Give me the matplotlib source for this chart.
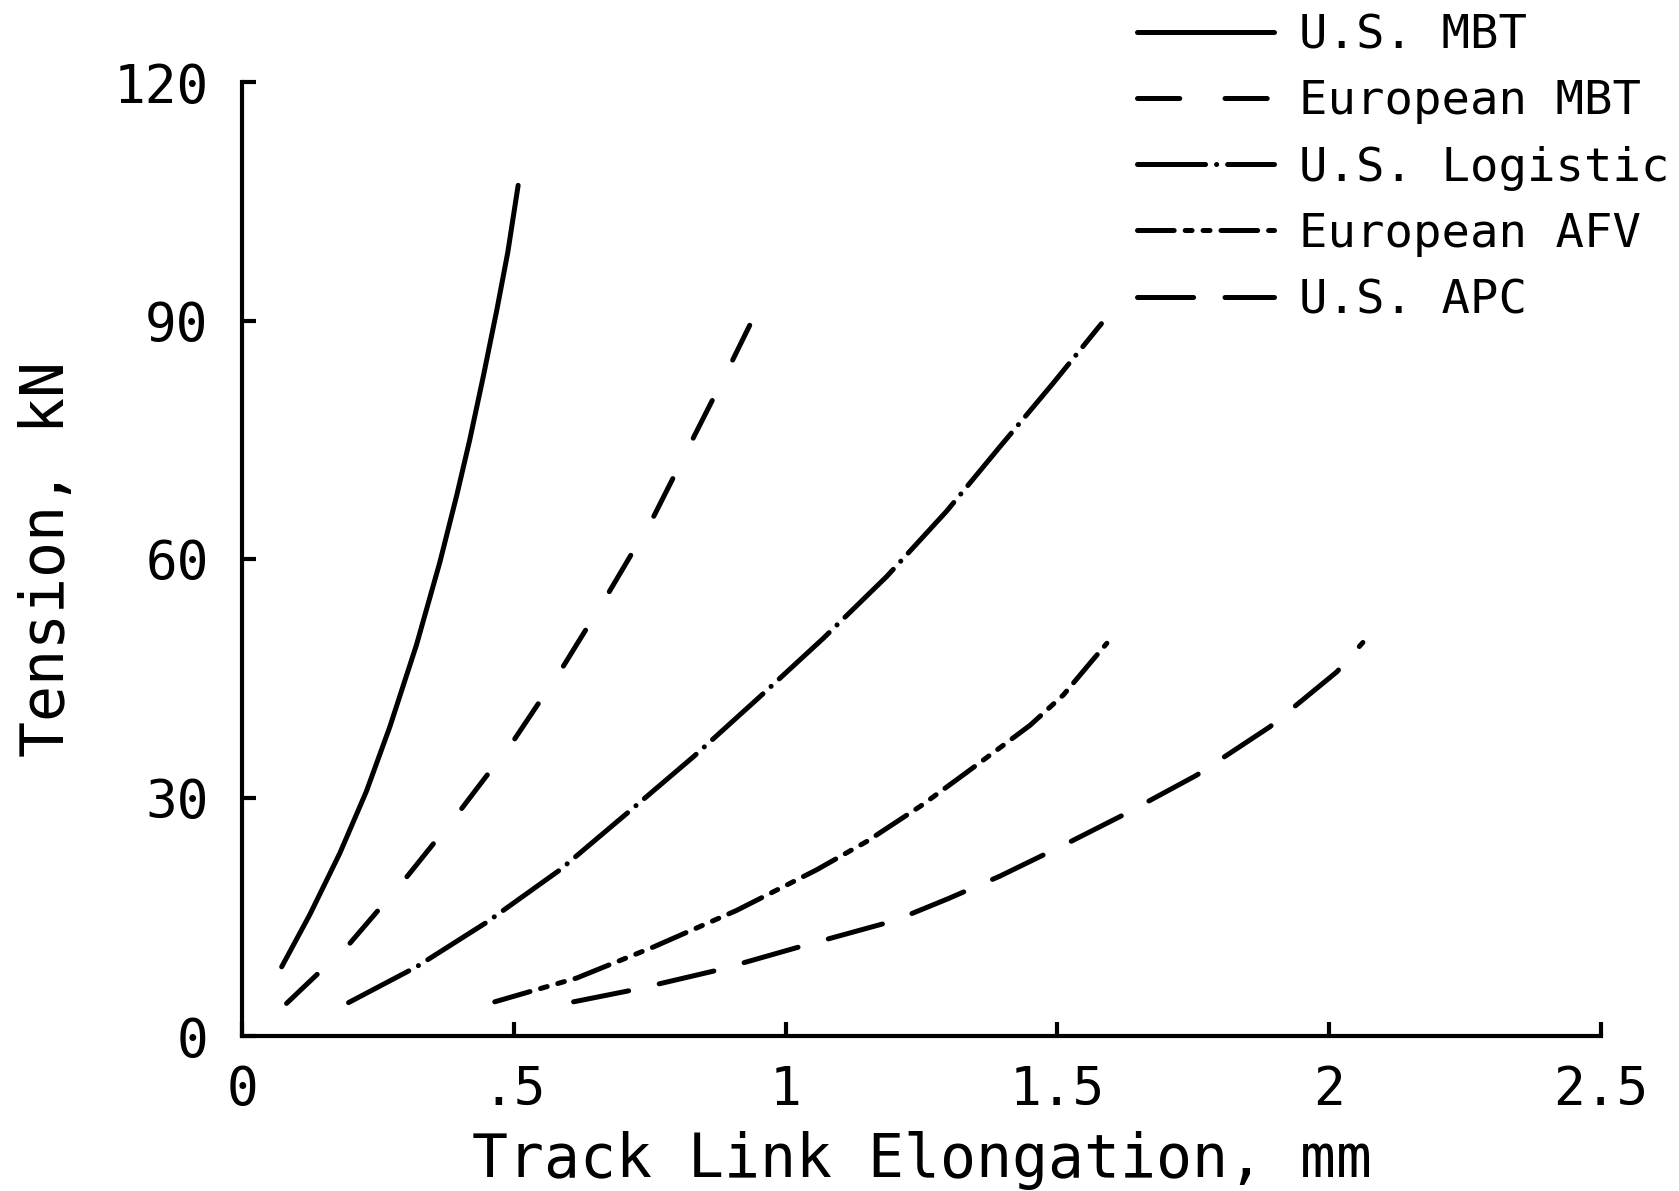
import matplotlib
matplotlib.use("Agg")
import matplotlib.pyplot as plt
import numpy as np

# values (elongation mm, tension kN)
us_mbt_x = [0.073, 0.125, 0.180, 0.229, 0.272, 0.321, 0.364, 0.395, 0.419, 0.444, 0.469, 0.489, 0.508]
us_mbt_y = [8.7, 15.3, 23.0, 30.8, 38.9, 49.2, 59.6, 68.0, 75.0, 83.0, 91.4, 98.6, 107.0]

eu_mbt_x = [0.082, 0.199, 0.303, 0.404, 0.502, 0.591, 0.674, 0.757, 0.830, 0.901, 0.934]
eu_mbt_y = [4.1, 11.7, 20.0, 28.6, 37.4, 46.5, 55.7, 65.3, 75.2, 84.8, 89.4]

us_log_x = [0.196, 0.321, 0.450, 0.585, 0.708, 0.830, 0.953, 1.069, 1.186, 1.296, 1.394, 1.492, 1.581]
us_log_y = [4.2, 8.7, 14.3, 20.9, 28.0, 35.1, 42.7, 50.0, 57.8, 66.0, 74.1, 82.1, 89.6]

eu_afv_x = [0.465, 0.616, 0.757, 0.910, 1.057, 1.150, 1.250, 1.330, 1.401, 1.450, 1.511, 1.560, 1.591]
eu_afv_y = [4.3, 7.3, 11.2, 15.8, 20.9, 24.5, 29.0, 33.0, 36.6, 39.1, 42.9, 46.9, 49.4]

us_apc_x = [0.610, 0.720, 0.876, 1.030, 1.200, 1.300, 1.394, 1.517, 1.618, 1.756, 1.891, 2.014, 2.062]
us_apc_y = [4.3, 5.8, 8.3, 11.3, 14.5, 17.3, 20.1, 24.2, 27.7, 32.8, 38.9, 45.8, 49.5]

labels = ["U.S. MBT", "European MBT", "U.S. Logistic", "European AFV", "U.S. APC"]
xticks = [0, 0.5, 1, 1.5, 2, 2.5]
xticklabels = ["0", ".5", "1", "1.5", "2", "2.5"]
yticks = [0, 30, 60, 90, 120]

plt.rcParams['font.family'] = ['DejaVu Sans Mono']
plt.rcParams['lines.scale_dashes'] = False

fig = plt.figure(figsize=(16.79, 11.91), dpi=100)
ax = fig.add_axes([242 / 1679, 1 - 1036 / 1191, 1359 / 1679, 954 / 1191])

lw = 3.6
styles = [
    '-',
    (0, (30.4, 32.6)),
    (0, (49, 7.9, 0.1, 7.9)),
    (0, (26.4, 7.9, 5, 7.9, 5, 7.9)),
    (0, (40.4, 22.6)),
]
series = [(us_mbt_x, us_mbt_y), (eu_mbt_x, eu_mbt_y), (us_log_x, us_log_y),
          (eu_afv_x, eu_afv_y), (us_apc_x, us_apc_y)]

for (x, y), ls, lab in zip(series, styles, labels):
    ax.plot(x, y, color='black', lw=lw, linestyle=ls, label=lab,
            dash_capstyle='round', solid_capstyle='round')

ax.set_xlim(0, 2.5)
ax.set_ylim(0, 120)
ax.spines['top'].set_visible(False)
ax.spines['right'].set_visible(False)
ax.spines['left'].set_linewidth(3)
ax.spines['bottom'].set_linewidth(3)
ax.set_xticks(xticks)
ax.set_xticklabels(xticklabels)
ax.set_yticks(yticks)
ax.tick_params(direction='in', length=10, width=3, labelsize=38)
ax.tick_params(axis='x', pad=20)
ax.tick_params(axis='y', pad=24)

ax.set_xlabel("Track Link Elongation, mm", fontsize=43, va='center')
ax.xaxis.set_label_coords(0.5, -0.13)
ax.set_ylabel("Tension, kN", fontsize=43, va='center')
ax.yaxis.set_label_coords(-0.143, 0.5)

leg = ax.legend(loc='upper left', bbox_to_anchor=(1137 / 1679, 0.989),
                bbox_transform=fig.transFigure, frameon=False, fontsize=34,
                handlelength=2.9, handletextpad=0.53, labelspacing=0.45,
                borderpad=0, borderaxespad=0)

fig.savefig("out.png", dpi=100)
